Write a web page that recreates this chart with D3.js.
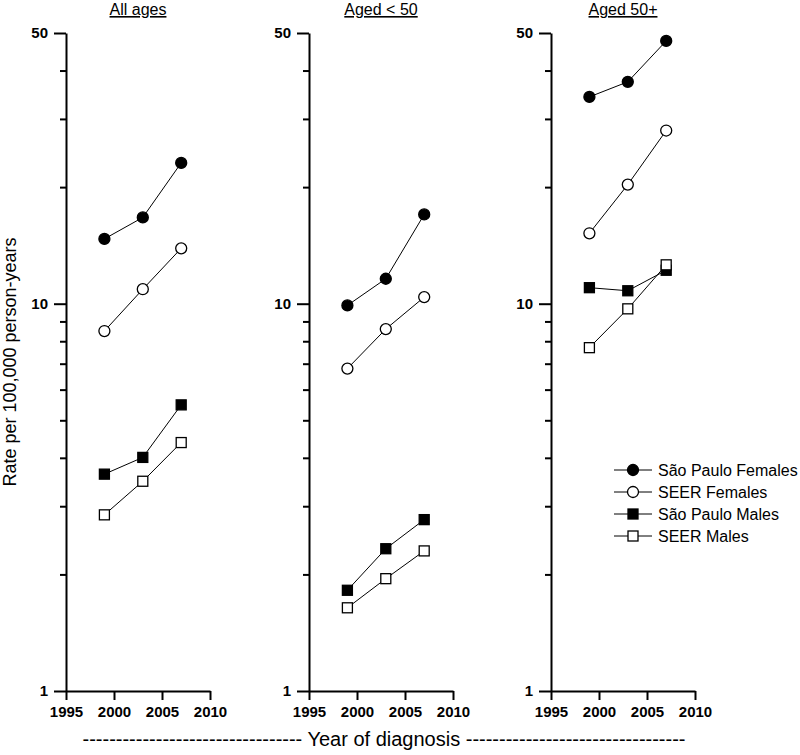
<!DOCTYPE html>
<html lang="en">
<head>
<meta charset="UTF-8">
<title>Rates by age group</title>
<script src="https://d3js.org/d3.v7.min.js"></script>
<style>
  body { margin: 0; background: #fff; }
  svg { display: block; font-family: "Liberation Sans", Arial, sans-serif; }
  .axis path, .axis line { stroke: #000; stroke-width: 2; }
  .axis text { font-family: "Liberation Sans", Arial, sans-serif; font-size: 15px; font-weight: bold; fill: #000; }
</style>
</head>
<body>
<svg id="chart" width="800" height="755"></svg>
<script>
// data
const years = [1999, 2003, 2007];
const panelTitles = ["All ages", "Aged < 50", "Aged 50+"];
const seriesNames = ["São Paulo Females", "SEER Females", "São Paulo Males", "SEER Males"];
const spFemales = [[14.7, 16.7, 23.1], [9.9, 11.6, 17.0], [34.2, 37.4, 47.7]];
const seerFemales = [[8.5, 10.9, 13.9], [6.8, 8.6, 10.4], [15.2, 20.3, 28.0]];
const spMales = [[3.63, 4.01, 5.48], [1.82, 2.33, 2.77], [11.0, 10.8, 12.2]];
const seerMales = [[2.85, 3.48, 4.38], [1.64, 1.95, 2.30], [7.7, 9.7, 12.6]];
const xTicks = [1995, 2000, 2005, 2010];
const yMajor = [1, 10, 50];
const yMinor = [2, 3, 4, 5, 6, 7, 8, 9, 20, 30, 40];

const seriesValues = [spFemales, seerFemales, spMales, seerMales];
const seriesStyle = [
  { shape: "circle", fill: "#000" },
  { shape: "circle", fill: "#fff" },
  { shape: "square", fill: "#000" },
  { shape: "square", fill: "#fff" }
];

const svg = d3.select("#chart");
const panelX = [66, 309, 551];
const panelW = 144;
const plotTop = 33, plotBottom = 691;

const y = d3.scaleLog().domain([1, 50]).range([plotBottom, plotTop]);

function drawMarker(g, shape, fill, cx, cy) {
  if (shape === "circle") {
    g.append("circle").attr("cx", cx).attr("cy", cy).attr("r", 5.5)
      .attr("fill", fill).attr("stroke", "#000").attr("stroke-width", 1.3);
  } else {
    g.append("rect").attr("x", cx - 5).attr("y", cy - 5).attr("width", 10).attr("height", 10)
      .attr("fill", fill).attr("stroke", "#000").attr("stroke-width", 1.3);
  }
}

panelTitles.forEach((title, p) => {
  const x = d3.scaleLinear().domain([1995, 2010]).range([panelX[p], panelX[p] + panelW]);
  const g = svg.append("g");

  // minor y ticks
  g.append("g").attr("class", "axis")
    .attr("transform", `translate(${panelX[p]},0)`)
    .call(d3.axisLeft(y).tickValues(yMinor).tickSize(6).tickFormat(""))
    .call(a => a.select(".domain").remove());

  // major y ticks
  g.append("g").attr("class", "axis")
    .attr("transform", `translate(${panelX[p]},0)`)
    .call(d3.axisLeft(y).tickValues(yMajor).tickSize(12).tickSizeOuter(0).tickPadding(6)
      .tickFormat(d3.format("d")));

  // x axis
  g.append("g").attr("class", "axis")
    .attr("transform", `translate(0,${plotBottom})`)
    .call(d3.axisBottom(x).tickValues(xTicks).tickSize(9).tickSizeOuter(0).tickPadding(6)
      .tickFormat(d3.format("d")));

  // panel title
  g.append("text")
    .attr("x", panelX[p] + panelW / 2).attr("y", 15)
    .attr("text-anchor", "middle")
    .style("font-size", "16px")
    .style("text-decoration", "underline")
    .text(title);

  // series lines then markers
  seriesValues.forEach((vals, s) => {
    const pts = years.map((yr, i) => [x(yr), y(vals[p][i])]);
    g.append("path").attr("d", d3.line()(pts))
      .attr("fill", "none").attr("stroke", "#000").attr("stroke-width", 1);
  });
  seriesValues.forEach((vals, s) => {
    years.forEach((yr, i) => {
      drawMarker(g, seriesStyle[s].shape, seriesStyle[s].fill, x(yr), y(vals[p][i]));
    });
  });
});

// y label
svg.append("text")
  .attr("transform", `translate(16,${(plotTop + plotBottom) / 2}) rotate(-90)`)
  .attr("text-anchor", "middle")
  .style("font-size", "18px")
  .text("Rate per 100,000 person-years");

// x label with dashes
const dashes = "-".repeat(33);
svg.append("text")
  .attr("x", 384).attr("y", 746)
  .attr("text-anchor", "middle")
  .style("font-size", "20px")
  .text(`${dashes} Year of diagnosis ${dashes}`);

// legend
const legend = svg.append("g");
seriesNames.forEach((name, s) => {
  const ly = 470 + s * 22;
  legend.append("line").attr("x1", 614).attr("x2", 652).attr("y1", ly).attr("y2", ly)
    .attr("stroke", "#000").attr("stroke-width", 1);
  drawMarker(legend, seriesStyle[s].shape, seriesStyle[s].fill, 633, ly);
  legend.append("text").attr("x", 658).attr("y", ly).attr("dy", "0.35em")
    .style("font-size", "16px").text(name);
});
</script>
</body>
</html>
